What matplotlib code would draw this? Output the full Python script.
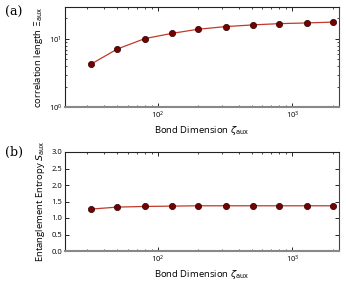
import matplotlib
matplotlib.use('Agg')
import matplotlib.pyplot as plt
import numpy as np

# --- data ---
bond_dim = [32, 50, 80, 128, 200, 320, 512, 800, 1280, 2000]
corr_len = [4.27, 7.1, 10.1, 12.1, 13.9, 15.2, 16.1, 16.8, 17.2, 17.7]
entropy = [1.27, 1.33, 1.35, 1.36, 1.37, 1.37, 1.37, 1.37, 1.37, 1.37]

plt.rcParams['font.family'] = ['Open Sans', 'DejaVu Sans']
plt.rcParams['mathtext.fontset'] = 'dejavusans'

line_col = '#c0392b'
mark_col = '#750000'

fig = plt.figure(figsize=(3.46, 2.81), dpi=100)
ax1 = fig.add_axes([65/346, 1-107/281, 274/346, 100/281])
ax2 = fig.add_axes([65/346, 1-251/281, 274/346, 99/281])

def style(ax):
    ax.set_xscale('log')
    ax.set_xlim(20.5, 2220)
    ax.tick_params(which='both', direction='in', top=True, right=True,
                   labelsize=5.5, pad=2)
    ax.tick_params(which='major', length=3, width=0.6)
    ax.tick_params(which='minor', length=1.5, width=0.5)
    for s in ['left', 'top']:
        ax.spines[s].set_linewidth(0.8)
        ax.spines[s].set_color('#222222')
    ax.spines['right'].set_color('#444444')
    ax.spines['right'].set_linewidth(0.8)
    ax.spines['bottom'].set_color('#888888')
    ax.spines['bottom'].set_linewidth(1.5)
    ax.set_xlabel(r'Bond Dimension $\zeta_{\rm aux}$', fontsize=6.8, labelpad=2)

for ax, yv in [(ax1, corr_len), (ax2, entropy)]:
    ax.plot(bond_dim, yv, '-', color=line_col, lw=0.9, zorder=2)
    ax.plot(bond_dim, yv, 'o', color=mark_col, mec='#2a0000', mew=0.5,
            ms=4.5, zorder=3)
    style(ax)

ax1.set_yscale('log')
ax1.set_ylim(1, 29.5)
ax1.set_ylabel(r'correlation length $\Xi_{\rm aux}$', fontsize=6.8, labelpad=3)

ax2.set_ylim(0, 3.0)
ax2.set_yticks(np.arange(0, 3.01, 0.5))
ax2.set_yticklabels(['%.1f' % v for v in np.arange(0, 3.01, 0.5)])
ax2.set_ylabel(r'Entanglement Entropy $S_{\rm aux}$', fontsize=6.8, labelpad=3)

fig.text(5/346, 1-12/281, '(a)', fontsize=9, family='DejaVu Serif', va='center')
fig.text(5/346, 1-152/281, '(b)', fontsize=9, family='DejaVu Serif', va='center')

fig.savefig('out.png', dpi=100)
